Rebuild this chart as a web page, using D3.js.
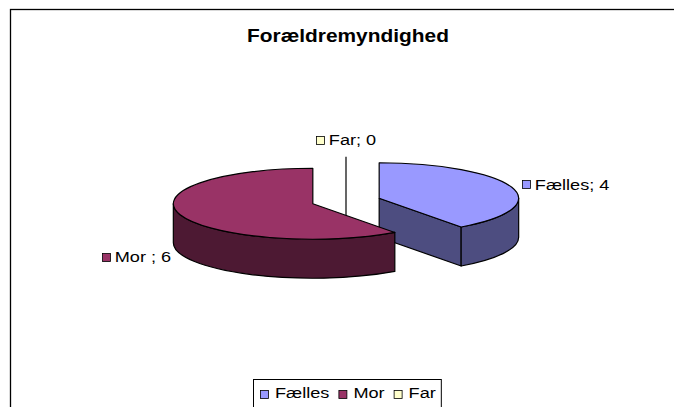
<html>

<head>
    <meta charset="utf-8">
    <script src="https://cdn.jsdelivr.net/npm/d3@7"></script>
    <style>
        body { margin: 0; background: #fff; overflow: hidden; }
        svg { display: block; }
        text { font-family: "Liberation Sans", Arial, sans-serif; }
    </style>
</head>

<body>
    <script type="text/javascript">
        var width = 674;
        var height = 407;

        // data
        const categories = ["Fælles", "Mor", "Far"];
        const values = [4, 6, 0];
        const labelNames = ["Fælles", "Mor ", "Far"];   // data labels as shown ("Mor ; 6")
        const topColors = ["#9999FF", "#993366", "#FFFFCC"];
        const sideColors = ["#4D4D80", "#4D1933", "#80806A"];
        const chartTitle = "Forældremyndighed";

        // pie layout (3D ellipse)
        var cx = 346, cy = 201;
        var rx = 139.5, ry = 35.5;
        var depth = 39;
        var explode = 0.25;
        var sx = 1.17;   // text in the original is horizontally stretched

        const svg = d3.select("body").append("svg")
            .attr("width", width)
            .attr("height", height);

        // chart border
        svg.append("rect")
            .attr("x", 10.5).attr("y", 9.5)
            .attr("width", 720).attr("height", 500)
            .attr("fill", "white")
            .attr("stroke", "black")
            .attr("stroke-width", 1.3);

        svg.append("text")
            .attr("transform", `translate(348, 42) scale(1.16, 1)`)
            .attr("text-anchor", "middle")
            .style("font-size", "18px")
            .style("font-weight", "bold")
            .text(chartTitle);

        var pie = d3.pie().sort(null).value(d => d);
        var arcs = pie(values).map((d, i) => {
            var mid = (d.startAngle + d.endAngle) / 2;
            d.i = i;
            d.mid = mid;
            d.c = {
                x: cx + explode * rx * Math.sin(mid),
                y: cy - explode * ry * Math.cos(mid)
            };
            return d;
        });

        function pt(c, a, dz) {
            return [c.x + rx * Math.sin(a), c.y - ry * Math.cos(a) + (dz || 0)];
        }

        function topPath(d) {
            var p0 = pt(d.c, d.startAngle), p1 = pt(d.c, d.endAngle);
            var large = d.endAngle - d.startAngle > Math.PI ? 1 : 0;
            return `M${d.c.x},${d.c.y}L${p0}A${rx},${ry} 0 ${large} 1 ${p1}Z`;
        }

        function rimPath(d) {
            var a0 = Math.max(d.startAngle, Math.PI / 2);
            var a1 = Math.min(d.endAngle, 3 * Math.PI / 2);
            if (a1 <= a0) return null;
            var p0 = pt(d.c, a0), p1 = pt(d.c, a1);
            var q0 = pt(d.c, a0, depth), q1 = pt(d.c, a1, depth);
            return `M${p0}A${rx},${ry} 0 0 1 ${p1}L${q1}A${rx},${ry} 0 0 0 ${q0}Z`;
        }

        function cutPath(d, a) {
            var p = pt(d.c, a), q = pt(d.c, a, depth);
            return `M${d.c.x},${d.c.y}L${p}L${q}L${d.c.x},${d.c.y + depth}Z`;
        }

        var pieG = svg.append("g").attr("class", "pie");

        // back to front
        arcs.slice().sort((a, b) => a.c.y - b.c.y).forEach(d => {
            var g = pieG.append("g");
            if (d.value === 0) {
                var p = pt(d.c, d.startAngle);
                g.append("path")
                    .attr("d", `M${p}L${d.c.x},${d.c.y}L${d.c.x},${d.c.y + depth}`)
                    .attr("fill", "none")
                    .attr("stroke", "black")
                    .attr("stroke-width", 1.2);
                return;
            }
            var sides = [];
            if (Math.sin(d.startAngle) < -1e-6) sides.push(cutPath(d, d.startAngle));
            if (Math.sin(d.endAngle) > 1e-6) sides.push(cutPath(d, d.endAngle));
            var rim = rimPath(d);
            if (rim) sides.push(rim);
            sides.forEach(s => {
                g.append("path")
                    .attr("d", s)
                    .attr("fill", sideColors[d.i])
                    .attr("stroke", "black")
                    .attr("stroke-width", 1.2)
                    .attr("stroke-linejoin", "round");
            });
            g.append("path")
                .attr("d", topPath(d))
                .attr("fill", topColors[d.i])
                .attr("stroke", "black")
                .attr("stroke-width", 1.2)
                .attr("stroke-linejoin", "round");
        });

        // data labels
        var labelG = svg.append("g").attr("class", "labels");
        arcs.forEach(d => {
            var rim = pt(d.c, d.mid);
            var s = Math.sin(d.mid);
            var g = labelG.append("g");
            var t = g.append("text")
                .style("font-size", "15.5px")
                .attr("dy", "0.35em")
                .text(`${labelNames[d.i]}; ${d.value}`);
            var tw = t.node().getComputedTextLength() * sx;
            var w = 13 + tw;
            var x0, y;
            if (Math.abs(s) < 0.3) {
                x0 = rim[0] - w / 2;
                y = rim[1] - 17;
            } else if (s > 0) {
                x0 = rim[0] + 10;
                y = rim[1] - 3;
            } else {
                x0 = rim[0] - 9 - w;
                y = rim[1] + depth + 3;
            }
            g.append("rect")
                .attr("x", Math.round(x0) + 0.5).attr("y", Math.round(y - 4) + 0.5)
                .attr("width", 8).attr("height", 8)
                .attr("fill", topColors[d.i])
                .attr("stroke", "black")
                .attr("stroke-width", 0.8);
            t.attr("transform", `translate(${x0 + 13}, ${y}) scale(${sx}, 1)`);
        });

        // legend
        var legend = svg.append("g").attr("class", "legend");
        var box = legend.append("rect")
            .attr("fill", "white")
            .attr("stroke", "black")
            .attr("stroke-width", 1);
        var lx = 0;
        categories.forEach((c, i) => {
            var g = legend.append("g");
            g.append("rect")
                .attr("x", lx + 0.5).attr("y", -7.5)
                .attr("width", 8).attr("height", 8)
                .attr("fill", topColors[i])
                .attr("stroke", "black")
                .attr("stroke-width", 0.8);
            var t = g.append("text")
                .style("font-size", "15.5px")
                .attr("transform", `translate(${lx + 15}, 0) scale(${sx}, 1)`)
                .text(c);
            lx += 15 + t.node().getComputedTextLength() * sx + 9;
        });
        var legendW = lx - 9 + 12;
        var legendX = Math.round(347 - legendW / 2);
        legend.attr("transform", `translate(${legendX + 7}, 398)`);
        box.attr("x", -6.5).attr("y", -18.5)
            .attr("width", legendW)
            .attr("height", 32);
    </script>
</body>

</html>
